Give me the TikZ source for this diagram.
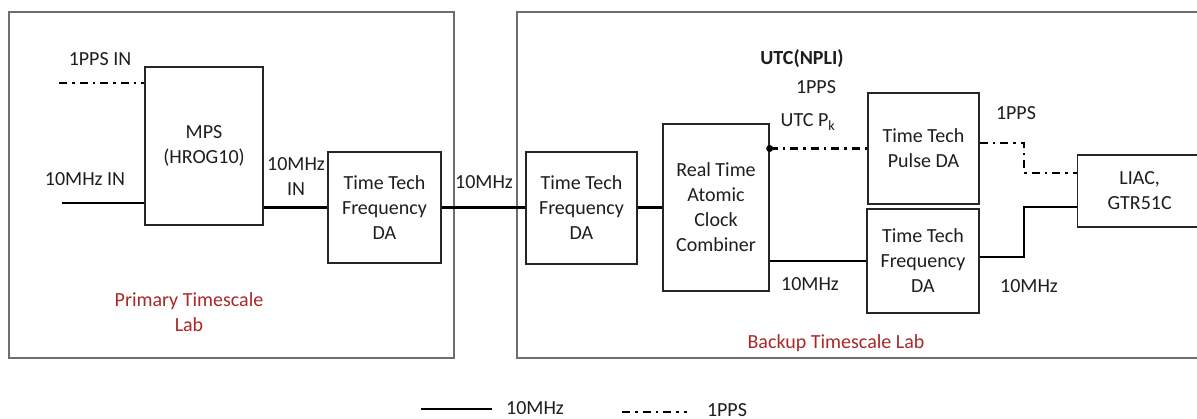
\documentclass[tikz,border=0pt]{standalone}
\usepackage{fontspec}
\setmainfont{Carlito}
\definecolor{txt}{RGB}{30,30,30}
\definecolor{labred}{RGB}{170,40,40}
\definecolor{framegray}{RGB}{110,110,110}
\begin{document}
\begin{tikzpicture}[x=1pt,y=-1pt,
  every node/.style={font=\fontsize{20}{25}\selectfont, text=txt, inner sep=0pt},
  box/.style={draw=black!85, line width=1.3pt, align=center},
  frame/.style={draw=framegray, line width=1.6pt},
  mhz/.style={draw=black, line width=2.3pt},
  thinmhz/.style={draw=black, line width=1.4pt},
  pps/.style={draw=black, line width=2.1pt, dash pattern=on 8pt off 5pt on 2.5pt off 5pt},
  lab/.style={text=labred, align=center}]
\clip (0,0) rectangle (1197,419);
\fill[white] (0,0) rectangle (1197,419);

% lab frames
\draw[frame] (9,12) rectangle (454,358);
\draw[frame] (517,12) rectangle (1210,358);

% blocks
\node[box, minimum width=118, minimum height=158] (mps) at (204,146) {MPS\\(HROG10)};
\node[box, minimum width=113, minimum height=111] (da1) at (384.5,207.5) {Time Tech\\Frequency\\DA};
\node[box, minimum width=111, minimum height=112] (da2) at (581.5,208) {Time Tech\\Frequency\\DA};
\node[box, minimum width=106, minimum height=167] (rt) at (716,207.5) {Real Time\\Atomic\\Clock\\Combiner};
\node[box, minimum width=111, minimum height=111] (pda) at (923.5,148.5) {Time Tech\\Pulse DA};
\node[box, minimum width=112, minimum height=104] (fda) at (923,261) {Time Tech\\Frequency\\DA};
\node[box, minimum width=124, minimum height=72, anchor=west] (liac) at (1077,191) {LIAC,\\GTR51C};

% inputs
\coordinate (in1) at (59,83);
\coordinate (in10) at (62,203);
\draw[pps] (in1) -- (in1 -| mps.west);
\draw[thinmhz] (in10) -- (in10 -| mps.west);
\node (l1ppsin) at (100,59) {1PPS IN};
\node (l10in) at (85,179) {10MHz IN};

% chain
\draw[mhz] (mps.east |- da1.west) -- (da1.west);
\node[align=center] (l10in2) at (296,176.5) {10MHz\\IN};
\draw[mhz] (da1.east) -- (da1.east -| da2.west);
\node (l10a) at (484,182) {10MHz};
\draw[mhz] (da2.east |- rt.west) -- (rt.west);

% RT outputs
\coordinate (ppsout) at (rt.east |- pda.west);
\draw[pps] (ppsout) -- (pda.west);
\fill[black] (ppsout) circle (3.5);
\draw[mhz] (rt.east |- fda.west) -- (fda.west);
\node[font=\bfseries\fontsize{20}{25}\selectfont] (lutc) at (802,59) {UTC(NPLI)};
\node (l1pps) at (816,87) {1PPS};
\node (lutcpk) at (808,122) {UTC P\textsubscript{k}};
\node (l10b) at (810,284) {10MHz};

% to LIAC
\draw[pps] ([yshift=5.5pt]pda.east) -- ++(44,0) |- ([yshift=18pt]liac.west);
\draw[mhz] ([yshift=4pt]fda.east) -- ++(44,0) |- ([yshift=-16pt]liac.west);
\node (l1pps2) at (1016,113) {1PPS};
\node (l10c) at (1029,286) {10MHz};

% lab labels
\node[lab] (prim) at (189,312) {Primary Timescale\\Lab};
\node[lab] (back) at (836,343) {Backup Timescale Lab};

% legend
\coordinate (lg1a) at (421,409);
\coordinate (lg1b) at (492,409);
\draw[mhz] (lg1a) -- (lg1b);
\node (lg1t) at (535,408) {10MHz};
\coordinate (lg2a) at (622,412);
\coordinate (lg2b) at (687,412);
\draw[pps] (lg2a) -- (lg2b);
\node (lg2t) at (727,410) {1PPS};
\end{tikzpicture}
\end{document}
